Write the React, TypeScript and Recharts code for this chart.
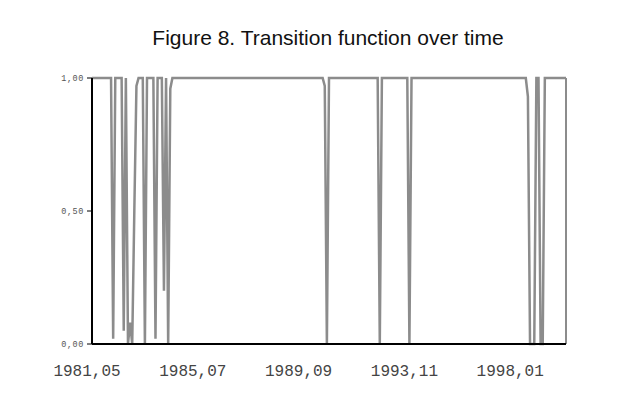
import React from 'react';
import { LineChart, Line, XAxis, YAxis, ReferenceLine } from 'recharts';

// transition function, monthly, 1981,05 .. 2000,01
const transitionValues = [
  1, 1, 1, 1, 1, 1, 1, 1, 1, 1, 0.02, 1, 1, 1, 1,
  0.05, 1, 0, 0.08, 0, 0.5, 0.97, 1, 1, 1, 0, 1, 1, 1, 1,
  0.02, 1, 1, 1, 0.2, 1, 0, 0.96, 1, 1, 1, 1, 1, 1, 1,
  1, 1, 1, 1, 1, 1, 1, 1, 1, 1, 1, 1, 1, 1, 1,
  1, 1, 1, 1, 1, 1, 1, 1, 1, 1, 1, 1, 1, 1, 1,
  1, 1, 1, 1, 1, 1, 1, 1, 1, 1, 1, 1, 1, 1, 1,
  1, 1, 1, 1, 1, 1, 1, 1, 1, 1, 1, 1, 1, 1, 1,
  1, 1, 1, 1, 1, 0.97, 0, 1, 1, 1, 1, 1, 1, 1, 1,
  1, 1, 1, 1, 1, 1, 1, 1, 1, 1, 1, 1, 1, 1, 1,
  1, 0, 1, 1, 1, 1, 1, 1, 1, 1, 1, 1, 1, 1, 1,
  0, 1, 1, 1, 1, 1, 1, 1, 1, 1, 1, 1, 1, 1, 1,
  1, 1, 1, 1, 1, 1, 1, 1, 1, 1, 1, 1, 1, 1, 1,
  1, 1, 1, 1, 1, 1, 1, 1, 1, 1, 1, 1, 1, 1, 1,
  1, 1, 1, 1, 1, 1, 1, 1, 1, 1, 1, 0.93, 0, 0, 0,
  1, 1, 0, 0, 1, 1, 1, 1, 1, 1, 1, 1, 1, 1, 1,
];

const xTickIndex = [0, 50, 100, 150, 200];
const xTickLabels = ['1981,05', '1985,07', '1989,09', '1993,11', '1998,01'];
const yTicks = [0, 0.5, 1];
const yTickLabels = ['0,00', '0,50', '1,00'];

const data = transitionValues.map((v, i) => ({ i, v }));
const lastIndex = transitionValues.length - 1;

const GRAY = '#8c8c8c';

const XTick = (props: any) => {
  const { x, y, payload } = props;
  const k = xTickIndex.indexOf(payload.value);
  return (
    <text x={x - 5} y={y + 24} textAnchor="middle" fontFamily="'Liberation Mono', monospace" fontSize={16} fill="#444">
      {xTickLabels[k]}
    </text>
  );
};

const YTick = (props: any) => {
  const { x, y, payload } = props;
  const k = yTicks.indexOf(payload.value);
  return (
    <text x={x - 1} y={y + 3} textAnchor="end" fontFamily="'Liberation Mono', monospace" fontSize={8.5} letterSpacing={0.6} fill="#555">
      {yTickLabels[k]}
    </text>
  );
};

export default function App() {
  return (
    <div style={{ position: 'absolute', left: 0, top: 0, width: 638, height: 409, background: '#fff' }}>
      <div
        style={{
          position: 'absolute',
          left: 0,
          top: 26,
          width: 656,
          textAlign: 'center',
          fontFamily: "'Liberation Sans', Arial, sans-serif",
          fontSize: 21,
          color: '#111',
        }}
      >
        Figure 8. Transition function over time
      </div>
      <LineChart width={638} height={409} data={data} margin={{ top: 78, right: 72, left: 52, bottom: 35 }}>
        <XAxis
          dataKey="i"
          type="number"
          domain={[0, lastIndex]}
          ticks={xTickIndex}
          tick={<XTick />}
          tickLine={false}
          axisLine={{ stroke: '#000', strokeWidth: 2 }}
          height={30}
        />
        <YAxis
          domain={[0, 1]}
          ticks={yTicks}
          tick={<YTick />}
          tickSize={5}
          tickLine={{ stroke: '#000' }}
          axisLine={{ stroke: '#000', strokeWidth: 2 }}
          width={40}
        />
        <ReferenceLine x={lastIndex} stroke={GRAY} strokeWidth={2} />
        <Line
          type="linear"
          dataKey="v"
          stroke={GRAY}
          strokeWidth={2.5}
          dot={false}
          isAnimationActive={false}
        />
      </LineChart>
    </div>
  );
}
